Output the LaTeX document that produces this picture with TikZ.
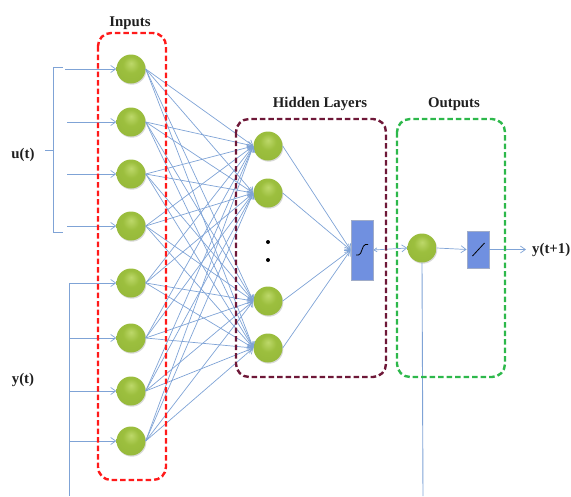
\documentclass[tikz,border=0pt]{standalone}
\usepackage{fontspec}
\setmainfont{Liberation Serif}
\usetikzlibrary{arrows.meta,shadows}
\definecolor{edgeblue}{HTML}{7FA3D6}
\definecolor{gtop}{HTML}{BDD86A}
\definecolor{gmid}{HTML}{9CBF3E}
\definecolor{gbot}{HTML}{6E8E22}
\definecolor{boxblue}{HTML}{7090E0}
\definecolor{boxborder}{HTML}{A0ACC8}
\definecolor{inred}{HTML}{FF1A1A}
\definecolor{hidmaroon}{HTML}{6E1838}
\definecolor{outgreen}{HTML}{2DB84B}
\pgfdeclareradialshading{gball}{\pgfpoint{0bp}{10bp}}{color(0bp)=(gtop); color(14bp)=(gmid); color(34bp)=(gmid!85!gbot); color(50bp)=(gbot)}
\tikzset{
  neuron/.style={circle, minimum size=29pt, inner sep=0pt, shading=gball,
    drop shadow={opacity=0.3, shadow xshift=0.8pt, shadow yshift=-1.2pt}},
  actbox/.style={rectangle, minimum width=22pt, inner sep=0pt, fill=boxblue,
    draw=boxborder, line width=0.8pt,
    drop shadow={opacity=0.25, shadow xshift=0.8pt, shadow yshift=-1pt}},
  conn/.style={draw=edgeblue, line width=0.7pt, -{Straight Barb[length=5pt,width=7pt]}},
  plain/.style={draw=edgeblue, line width=0.9pt},
  grp/.style={line width=2.4pt, dash pattern=on 5.5pt off 3pt, rounded corners=13pt},
  lbl/.style={font=\fontsize{14.8}{16}\selectfont\bfseries, text=black!88, inner sep=0pt}
}
\begin{document}
\begin{tikzpicture}[x=1pt,y=-1pt]
\useasboundingbox (0,0) rectangle (571,496);
% input neurons
\foreach \i/\y in {1/69,2/122,3/174,4/226,5/283,6/338,7/391,8/441}
  \node[neuron] (in\i) at (131,\y) {};
% hidden neurons
\foreach \j/\y in {1/146,2/193,3/301,4/348}
  \node[neuron] (h\j) at (268,\y) {};
\node[circle, fill=black, inner sep=0pt, minimum size=4pt] (d1) at (268,242) {};
\node[circle, fill=black, inner sep=0pt, minimum size=4pt] (d2) at (268,260) {};
% activation boxes
\node[actbox, minimum height=60pt] (sig) at (362,250) {};
\node[neuron] (out) at (422,248) {};
\node[actbox, minimum height=37pt] (lin) at (478,249.5) {};
\draw[black, line width=0.8pt] (356,255) -- (358.5,255) .. controls (362,255) and (362,244.5) .. (365.5,244.5) -- (368,244.5);
\draw[black, line width=0.8pt] (472.5,256) -- (484.5,243);
% input -> hidden
\foreach \i in {1,...,8}
  \foreach \j in {1,...,4}
    \draw[conn] (in\i.east) -- (h\j.west);
% hidden -> sigmoid
\foreach \j in {1,...,4}
  \draw[conn] (h\j.east) -- (sig.west);
% sigmoid -> output
\draw[draw=edgeblue, line width=0.7pt, {Straight Barb[length=3pt,width=4pt]}-{Straight Barb[length=5pt,width=7pt]}] (sig.east) -- (out.west);
\draw[conn] (out.east) -- (lin.west);
\coordinate (yend) at (526,249.5);
\draw[conn] (lin.east) -- (yend);
% feedback line from output
\coordinate (obot) at (423,496);
\draw[plain] (out.south) -- (obot);
% u(t) bracket
\coordinate (bt) at (63,67);
\coordinate (btc) at (53,67);
\coordinate (bbc) at (53,232);
\coordinate (bb) at (63,232);
\coordinate (bm) at (53,150);
\coordinate (bn) at (45,150);
\draw[plain] (bt) -- (btc) -- (bbc) -- (bb);
\draw[plain] (bm) -- (bn);
\coordinate (u1) at (65,69);
\coordinate (u2) at (67,122);
\coordinate (u3) at (67,174);
\coordinate (u4) at (67,226);
\foreach \k in {1,...,4}
  \draw[conn] (u\k) -- (in\k.west);
% y(t) feed lines
\coordinate (ytop) at (69,283);
\coordinate (ybot) at (69,496);
\draw[plain] (ytop) -- (ybot);
\foreach \k/\y in {5/283,6/338,7/391,8/441}{
  \coordinate (yb\k) at (69,\y);
  \draw[conn] (yb\k) -- (in\k.west);
}
% group boxes
\draw[grp, draw=inred] (98,33) rectangle (166,480);
\draw[grp, draw=hidmaroon] (236,119) rectangle (386,377);
\draw[grp, draw=outgreen] (397,119) rectangle (505,377);
% labels
\node[lbl] (linputs) at (130,23) {Inputs};
\node[lbl] (lhidden) at (320,104) {Hidden Layers};
\node[lbl] (loutputs) at (454,104) {Outputs};
\node[lbl] (lu) at (23,155) {u(t)};
\node[lbl] (ly) at (23,380) {y(t)};
\node[lbl, anchor=west] (lyt) at (532,249.5) {y(t+1)};
\end{tikzpicture}
\end{document}
